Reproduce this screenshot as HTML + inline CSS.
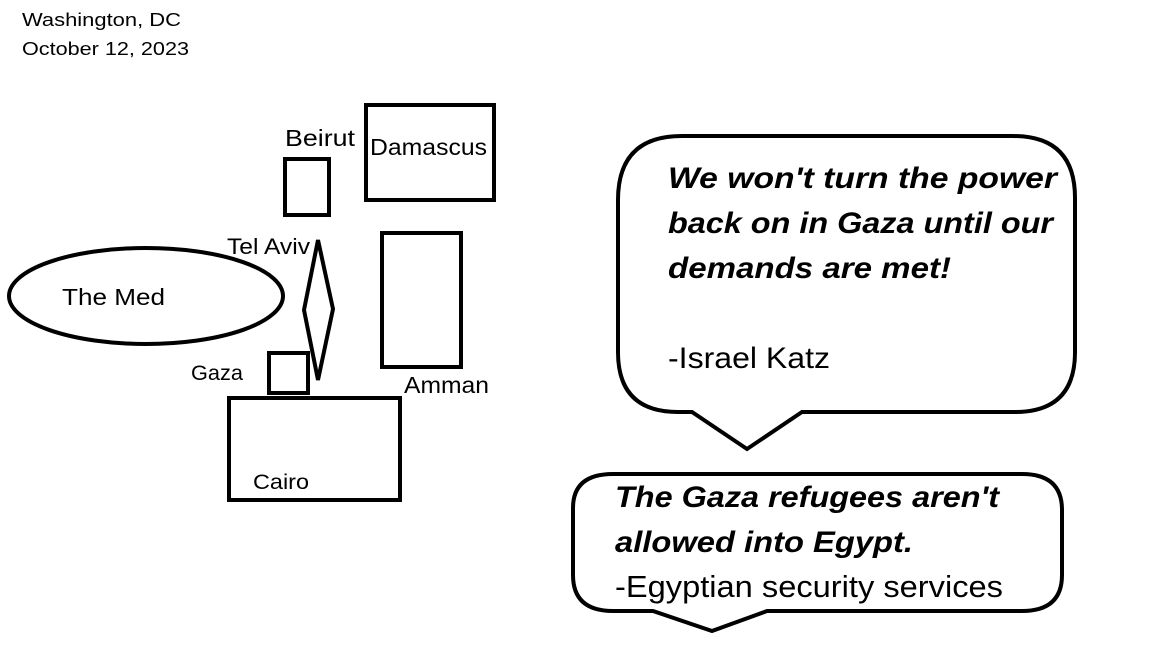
<!DOCTYPE html>
<html><head><meta charset="utf-8"><style>
html,body{margin:0;padding:0;background:#fff;width:1152px;height:648px;overflow:hidden}
svg{display:block}
text{font-family:"Liberation Sans",sans-serif;fill:#000}
</style></head><body>
<svg width="1152" height="648" viewBox="0 0 1152 648" xmlns="http://www.w3.org/2000/svg">
<g fill="none" stroke="#000" stroke-width="4">
<rect x="366" y="105" width="128" height="95"/>
<rect x="285" y="159" width="44" height="56"/>
<rect x="382" y="233" width="79" height="134"/>
<rect x="269" y="353" width="39" height="40"/>
<rect x="229" y="398" width="171" height="102"/>
<ellipse cx="146" cy="296" rx="137" ry="48"/>
<polygon points="318,240 333,309 318,380 304,310"/>
<path d="M692,412 L678,412 Q618,412 618,352 L618,200 Q618,136 682,136 L1013,136 Q1075,136 1075,198 L1075,352 Q1075,412 1015,412 L802,412 L747,449 Z"/>
<path d="M653,611 L613,611 Q573,611 573,575 L573,508 Q573,474 613,474 L1022,474 Q1062,474 1062,510 L1062,575 Q1062,611 1022,611 L767,611 L712,631 Z"/>
</g>
<text x="22" y="26" font-size="18" textLength="159" lengthAdjust="spacingAndGlyphs">Washington, DC</text>
<text x="22" y="55" font-size="18" textLength="167" lengthAdjust="spacingAndGlyphs">October 12, 2023</text>
<text x="285" y="146" font-size="23" textLength="70" lengthAdjust="spacingAndGlyphs">Beirut</text>
<text x="370" y="155" font-size="23" textLength="117" lengthAdjust="spacingAndGlyphs">Damascus</text>
<text x="227" y="254" font-size="22" textLength="83" lengthAdjust="spacingAndGlyphs">Tel Aviv</text>
<text x="62" y="305" font-size="23" textLength="103" lengthAdjust="spacingAndGlyphs">The Med</text>
<text x="191" y="380" font-size="21" textLength="52" lengthAdjust="spacingAndGlyphs">Gaza</text>
<text x="404" y="393" font-size="23" textLength="85" lengthAdjust="spacingAndGlyphs">Amman</text>
<text x="253" y="489" font-size="21" textLength="56" lengthAdjust="spacingAndGlyphs">Cairo</text>
<g font-size="30" font-weight="bold" font-style="italic" lengthAdjust="spacingAndGlyphs">
<text x="668" y="188" textLength="389" lengthAdjust="spacingAndGlyphs">We won't turn the power</text>
<text x="668" y="233" textLength="385" lengthAdjust="spacingAndGlyphs">back on in Gaza until our</text>
<text x="668" y="278" textLength="283" lengthAdjust="spacingAndGlyphs">demands are met!</text>
<text x="615" y="507" textLength="384" lengthAdjust="spacingAndGlyphs">The Gaza refugees aren't</text>
<text x="615" y="552" textLength="298" lengthAdjust="spacingAndGlyphs">allowed into Egypt.</text>
</g>
<text x="668" y="368" font-size="30" textLength="162" lengthAdjust="spacingAndGlyphs">-Israel Katz</text>
<text x="615" y="597" font-size="31" textLength="388" lengthAdjust="spacingAndGlyphs">-Egyptian security services</text>
</svg>
</body></html>
